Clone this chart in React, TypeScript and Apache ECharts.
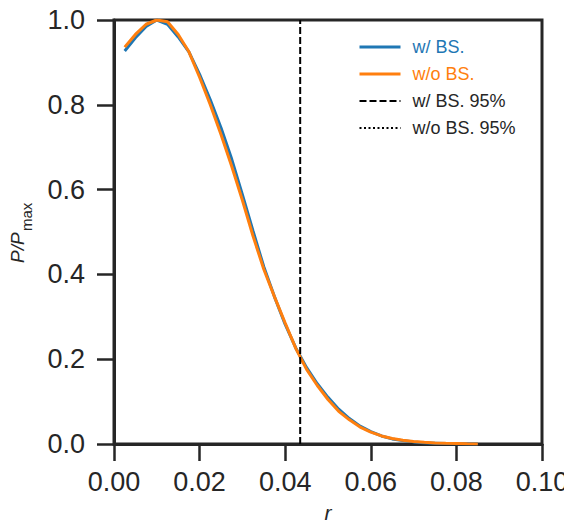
import React, { useEffect, useRef } from "react";
import * as echarts from "echarts";

const rValues = [
  0.0025, 0.005, 0.0075, 0.01, 0.0125, 0.015, 0.0175, 0.02, 0.0225, 0.025,
  0.0275, 0.03, 0.0325, 0.035, 0.0375, 0.04, 0.0425, 0.045, 0.0475, 0.05,
  0.0525, 0.055, 0.0575, 0.06, 0.0625, 0.065, 0.0675, 0.07, 0.0725, 0.075,
  0.0775, 0.08, 0.0825, 0.085,
];

const withBS = [
  0.927, 0.958, 0.985, 1.0, 0.99, 0.96, 0.925, 0.872, 0.812, 0.746,
  0.672, 0.588, 0.502, 0.418, 0.347, 0.282, 0.226, 0.18, 0.142, 0.11,
  0.082, 0.06, 0.042, 0.029, 0.019, 0.012, 0.008, 0.005, 0.003, 0.002,
  0.001, 0.0005, 0.0002, 0.0,
];

const withoutBS = [
  0.936, 0.966, 0.99, 1.0, 0.996, 0.966, 0.925, 0.865, 0.8, 0.73,
  0.655, 0.575, 0.49, 0.412, 0.347, 0.285, 0.225, 0.176, 0.138, 0.105,
  0.077, 0.057, 0.04, 0.028, 0.019, 0.013, 0.009, 0.006, 0.004, 0.0025,
  0.0015, 0.001, 0.0004, 0.0,
];

const withBS95 = 0.0435;
const xTicks = [0, 0.02, 0.04, 0.06, 0.08, 0.1];
const yTicks = [0, 0.2, 0.4, 0.6, 0.8, 1.0];

const seriesNames = ["w/ BS.", "w/o BS.", "w/ BS. 95%", "w/o BS. 95%"];

export default function App() {
  const ref = useRef<HTMLDivElement>(null);
  useEffect(() => {
    if (!ref.current) return;
    const chart = echarts.init(ref.current, undefined, { renderer: "svg" });
    const axisColor = "#262626";
    const font = "'Liberation Sans', Arial, Helvetica, sans-serif";
    chart.setOption({
      animation: false,
      grid: {
        left: 114,
        right: 30,
        top: 20,
        bottom: 86,
        outerBoundsMode: "none",
        containLabel: false,
        show: true,
        borderColor: axisColor,
        borderWidth: 3,
      },
      legend: {
        orient: "vertical",
        left: 353,
        top: 33,
        itemWidth: 41,
        itemHeight: 14,
        itemGap: 9,
        itemStyle: { opacity: 0, borderWidth: 0 },
        textStyle: { fontSize: 18, fontFamily: font, color: axisColor, padding: [0, 0, 0, 7] },
        data: [
          { name: seriesNames[0], textStyle: { color: "#1f77b4" }, lineStyle: { width: 3 } },
          { name: seriesNames[1], textStyle: { color: "#ff7f0e" }, lineStyle: { width: 3 } },
          { name: seriesNames[2], lineStyle: { width: 2 } },
          { name: seriesNames[3], lineStyle: { width: 2 } },
        ],
      },
      xAxis: {
        type: "value",
        min: 0,
        max: 0.1,
        interval: 0.02,
        axisLine: { show: true, lineStyle: { color: axisColor, width: 3 } },
        axisTick: { show: true, inside: false, length: 17, lineStyle: { color: axisColor, width: 2.5 } },
        axisLabel: {
          fontSize: 27,
          fontFamily: font,
          color: axisColor,
          margin: 24,
          formatter: (v: number) => v.toFixed(2),
          customValues: xTicks,
        },
        splitLine: { show: false },
        name: "r",
        nameLocation: "middle",
        nameGap: 58,
        nameTextStyle: { fontSize: 21, fontStyle: "italic", fontFamily: font, color: axisColor },
      },
      yAxis: {
        type: "value",
        min: 0,
        max: 1,
        interval: 0.2,
        axisLine: { show: true, lineStyle: { color: axisColor, width: 3 } },
        axisTick: { show: true, inside: false, length: 17, lineStyle: { color: axisColor, width: 2.5 } },
        axisLabel: {
          fontSize: 27,
          fontFamily: font,
          color: axisColor,
          margin: 29,
          formatter: (v: number) => v.toFixed(1),
          customValues: yTicks,
        },
        splitLine: { show: false },
      },
      graphic: [
        {
          type: "text",
          x: 17,
          y: 263,
          rotation: Math.PI / 2,
          style: {
            text: "P/P",
            font: `italic 19px ${font}`,
            fill: axisColor,
            align: "left",
            verticalAlign: "middle",
          },
        },
        {
          type: "text",
          x: 26,
          y: 231,
          rotation: Math.PI / 2,
          style: {
            text: "max",
            font: `15px ${font}`,
            fill: axisColor,
            align: "left",
            verticalAlign: "middle",
          },
        },
      ],
      series: [
        {
          name: seriesNames[0],
          type: "line",
          data: rValues.map((r, i) => [r, withBS[i]]),
          symbol: "none",
          color: "#1f77b4",
          lineStyle: { width: 3, color: "#1f77b4" },
          z: 2,
        },
        {
          name: seriesNames[1],
          type: "line",
          data: rValues.map((r, i) => [r, withoutBS[i]]),
          symbol: "none",
          color: "#ff7f0e",
          lineStyle: { width: 3, color: "#ff7f0e" },
          z: 3,
        },
        {
          name: seriesNames[2],
          type: "line",
          data: [
            [withBS95, 0],
            [withBS95, 1],
          ],
          symbol: "none",
          color: "#000",
          lineStyle: { width: 2, color: "#000", type: [7, 3] },
          z: 4,
        },
        {
          name: seriesNames[3],
          type: "line",
          data: [],
          symbol: "none",
          color: "#000",
          lineStyle: { width: 2, color: "#000", type: [2, 2.5] },
          z: 4,
        },
      ],
    });
    return () => chart.dispose();
  }, []);
  return <div ref={ref} style={{ width: 572, height: 530, margin: -8 }} />;
}
